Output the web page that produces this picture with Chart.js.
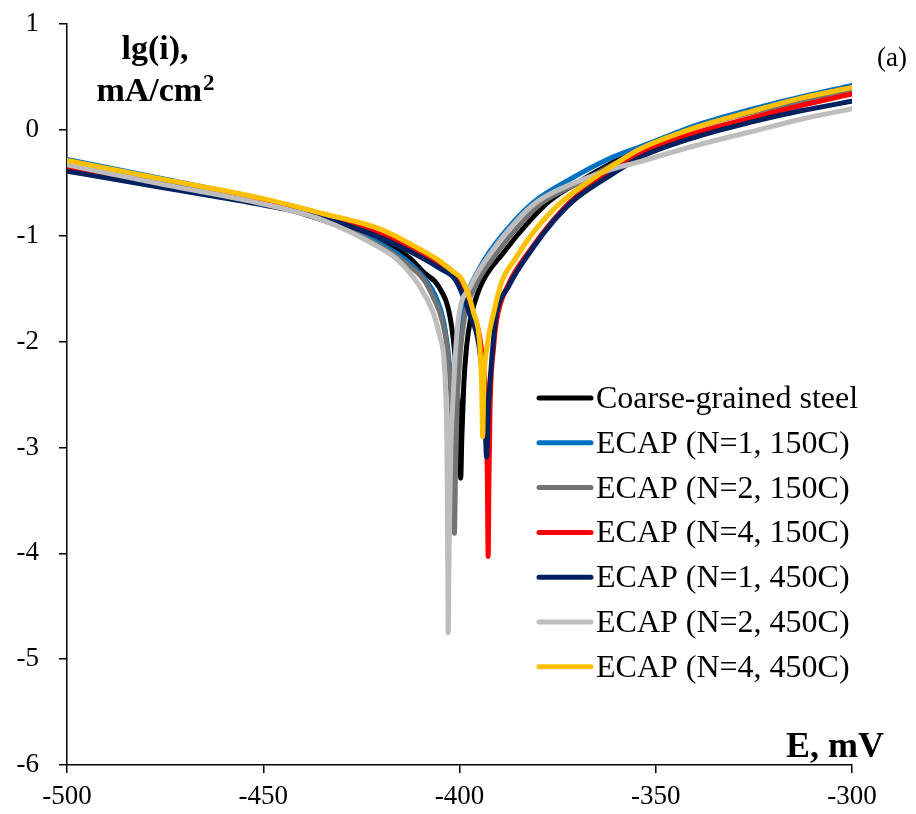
<!DOCTYPE html>
<html>
<head>
<meta charset="utf-8">
<title>Polarization curves</title>
<script src="https://cdn.jsdelivr.net/npm/chart.js@4.4.0/dist/chart.umd.min.js"></script>
<style>
html, body { margin: 0; padding: 0; background: #ffffff; }
#chart_wrapper { width: 916px; height: 814px; }
</style>
</head>
<body>
<div id="chart_wrapper"><canvas id="chart" width="916" height="814"></canvas></div>
<script>
/*jslint browser: true*/
/*global Chart*/

var serif = "'Liberation Serif', 'Times New Roman', serif";

var seriesNames = [
    "Coarse-grained steel",
    "ECAP (N=1, 150C)",
    "ECAP (N=2, 150C)",
    "ECAP (N=4, 150C)",
    "ECAP (N=1, 450C)",
    "ECAP (N=2, 450C)",
    "ECAP (N=4, 450C)"
];
var seriesColors = ["#000000", "#0070C0", "#737373", "#FF0000", "#002060", "#BDBDBD", "#FFC000"];

var xTicks = [-500, -450, -400, -350, -300];
var yTicks = [-6, -5, -4, -3, -2, -1, 0, 1];

// potential E, mV and lg(i) for every sample
var coarseE = [-500, -475, -450, -435, -420, -413, -409, -405.3, -402.3, -401, -400.3, -399.9, -399.7, -399.4, -398.9, -398.2, -397.2, -394.7, -388.8, -381.9, -377, -370, -360, -350, -340, -326, -313, -300];
var coarseLg = [-0.34, -0.52, -0.69, -0.85, -1.07, -1.20, -1.35, -1.48, -1.79, -2.2, -2.6, -3.0, -3.29, -2.9, -2.4, -2.05, -1.79, -1.48, -1.16, -0.85, -0.67, -0.50, -0.29, -0.11, 0.03, 0.17, 0.29, 0.39];

var n1t150E = [-500, -475, -450, -435, -420, -414, -409, -406, -404, -402.6, -401.9, -401.4, -401.0, -400.4, -399.6, -398, -395.5, -392.5, -386, -381, -372, -362.3, -354, -349, -340, -326, -313, -300];
var n1t150Lg = [-0.28, -0.465, -0.66, -0.80, -1.08, -1.22, -1.40, -1.58, -1.82, -2.2, -2.55, -2.9, -2.5, -2.1, -1.82, -1.55, -1.35, -1.16, -0.86, -0.68, -0.47, -0.28, -0.16, -0.09, 0.04, 0.19, 0.31, 0.42];

var n2t150E = [-500, -475, -450, -435, -420, -414, -409, -406.7, -404.5, -403, -402.2, -401.7, -401.3, -401.0, -400.6, -400.0, -398.8, -396, -390.4, -383.5, -379, -374, -370, -360, -350, -340, -326, -313, -300];
var n2t150Lg = [-0.32, -0.51, -0.69, -0.84, -1.10, -1.25, -1.42, -1.58, -1.79, -2.1, -2.5, -3.0, -3.81, -3.2, -2.6, -2.2, -1.79, -1.48, -1.16, -0.85, -0.69, -0.58, -0.51, -0.31, -0.13, 0.02, 0.16, 0.27, 0.37];

var n4t150E = [-500, -475, -450, -435, -420, -410, -405, -402, -399.7, -396.5, -394.5, -393.3, -392.9, -392.7, -392.5, -392.2, -391.3, -390.5, -387.8, -381.5, -376.5, -371.5, -362, -354, -340, -326, -313, -300];
var n4t150Lg = [-0.36, -0.53, -0.69, -0.81, -0.99, -1.16, -1.26, -1.33, -1.45, -1.73, -2.05, -2.6, -3.3, -4.03, -3.3, -2.6, -2.05, -1.79, -1.48, -1.11, -0.87, -0.67, -0.41, -0.22, -0.03, 0.11, 0.23, 0.34];

var n1t450E = [-500, -475, -450, -435, -420, -410, -405, -401, -397.5, -395, -393.6, -393.1, -392.6, -391.5, -390.8, -387.5, -381, -376, -371, -362, -354, -340, -326, -313, -300];
var n1t450Lg = [-0.39, -0.55, -0.71, -0.83, -1.02, -1.20, -1.31, -1.42, -1.73, -2.05, -2.6, -3.09, -2.6, -2.05, -1.79, -1.48, -1.10, -0.86, -0.67, -0.44, -0.26, -0.07, 0.07, 0.18, 0.27];

var n2t450E = [-500, -475, -450, -435, -420, -416, -412, -409, -406.5, -405, -404, -403.5, -403.2, -403.0, -402.9, -402.6, -402.2, -401.6, -401.1, -400.3, -397.2, -392, -385.2, -380.2, -375, -370, -362, -354, -340, -326, -313, -300];
var n2t450Lg = [-0.33, -0.52, -0.70, -0.85, -1.12, -1.22, -1.38, -1.55, -1.75, -1.95, -2.15, -2.5, -3.0, -4.0, -4.75, -3.8, -3.0, -2.5, -2.15, -1.79, -1.48, -1.16, -0.85, -0.68, -0.57, -0.49, -0.38, -0.30, -0.15, -0.02, 0.10, 0.20];

var n4t450E = [-500, -475, -450, -435, -420, -410, -405, -402, -399.3, -396.4, -394.8, -394.3, -394.1, -393.8, -393.0, -391.3, -389.1, -386, -383, -379, -374, -366, -359, -354, -340, -326, -313, -300];
var n4t450Lg = [-0.29, -0.47, -0.65, -0.79, -0.94, -1.13, -1.24, -1.33, -1.42, -1.73, -2.05, -2.5, -2.9, -2.4, -2.05, -1.73, -1.42, -1.23, -1.06, -0.87, -0.68, -0.46, -0.29, -0.18, 0.02, 0.17, 0.30, 0.40];

var seriesE = [coarseE, n1t150E, n2t150E, n4t150E, n1t450E, n2t450E, n4t450E];
var seriesLg = [coarseLg, n1t150Lg, n2t150Lg, n4t150Lg, n1t450Lg, n2t450Lg, n4t450Lg];

function toPoints(es, lgs) {
    "use strict";
    return es.map(function (e, i) {
        return {x: e, y: lgs[i]};
    });
}

var datasets = seriesNames.map(function (name, i) {
    "use strict";
    return {
        label: name,
        data: toPoints(seriesE[i], seriesLg[i]),
        borderColor: seriesColors[i],
        backgroundColor: seriesColors[i],
        borderWidth: 5,
        borderCapStyle: "round",
        borderJoinStyle: "round",
        pointRadius: 0,
        cubicInterpolationMode: "monotone",
        fill: false,
        // later series sit on top
        order: seriesNames.length - i
    };
});

// axis titles, panel letter and the legend box inside the plot
var annotations = {
    id: "annotations",
    afterDraw: function (chart) {
        "use strict";
        var ctx = chart.ctx,
            rowY,
            w1,
            w2,
            x0;

        ctx.save();
        ctx.fillStyle = "#000000";
        ctx.textBaseline = "alphabetic";

        ctx.font = "bold 34px " + serif;
        ctx.textAlign = "center";
        ctx.fillText("lg(i),", 155, 59);

        ctx.textAlign = "left";
        w1 = ctx.measureText("mA/cm").width;
        ctx.font = "bold 23px " + serif;
        w2 = ctx.measureText("2").width;
        x0 = 155 - (w1 + w2) / 2;
        ctx.font = "bold 34px " + serif;
        ctx.fillText("mA/cm", x0, 101);
        ctx.font = "bold 23px " + serif;
        ctx.fillText("2", x0 + w1 + 1, 90);

        ctx.font = "bold 36px " + serif;
        ctx.textAlign = "right";
        ctx.fillText("E, mV", 884, 757);

        ctx.font = "27px " + serif;
        ctx.textAlign = "center";
        ctx.fillText("(a)", 892, 66);

        ctx.font = "32px " + serif;
        ctx.textAlign = "left";
        chart.data.datasets.forEach(function (ds, i) {
            rowY = 398 + i * 44.8;
            ctx.strokeStyle = ds.borderColor;
            ctx.lineWidth = 5;
            ctx.lineCap = "round";
            ctx.beginPath();
            ctx.moveTo(539, rowY);
            ctx.lineTo(591, rowY);
            ctx.stroke();
            ctx.fillText(ds.label, 596, rowY + 10);
        });
        ctx.restore();
    }
};

var axisGrid = {
    drawOnChartArea: false,
    drawTicks: true,
    tickLength: 8,
    color: "#000000",
    lineWidth: 1.5
};

var ctxEl = document.getElementById("chart").getContext("2d");
var chart = new Chart(ctxEl, {
    type: "line",
    data: {datasets: datasets},
    options: {
        responsive: false,
        animation: false,
        layout: {padding: {top: 24, right: 64, left: 0, bottom: 0}},
        plugins: {
            legend: {display: false},
            tooltip: {enabled: false}
        },
        scales: {
            x: {
                type: "linear",
                min: xTicks[0],
                max: xTicks[xTicks.length - 1],
                afterBuildTicks: function (scale) {
                    scale.ticks = xTicks.map(function (v) { return {value: v}; });
                },
                afterFit: function (scale) {
                    scale.height = 49;
                    scale.paddingLeft = 0;
                    scale.paddingRight = 0;
                },
                grid: axisGrid,
                border: {display: true, color: "#000000", width: 1.5},
                ticks: {
                    color: "#000000",
                    font: {family: serif, size: 27},
                    padding: 8,
                    maxRotation: 0,
                    autoSkip: false
                }
            },
            y: {
                type: "linear",
                min: yTicks[0],
                max: yTicks[yTicks.length - 1],
                afterBuildTicks: function (scale) {
                    scale.ticks = yTicks.map(function (v) { return {value: v}; });
                },
                afterFit: function (scale) {
                    scale.width = 67;
                    scale.paddingTop = 0;
                    scale.paddingBottom = 0;
                },
                grid: axisGrid,
                border: {display: true, color: "#000000", width: 1.5},
                ticks: {
                    color: "#000000",
                    font: {family: serif, size: 27},
                    padding: 20
                }
            }
        }
    },
    plugins: [annotations]
});
</script>
</body>
</html>
